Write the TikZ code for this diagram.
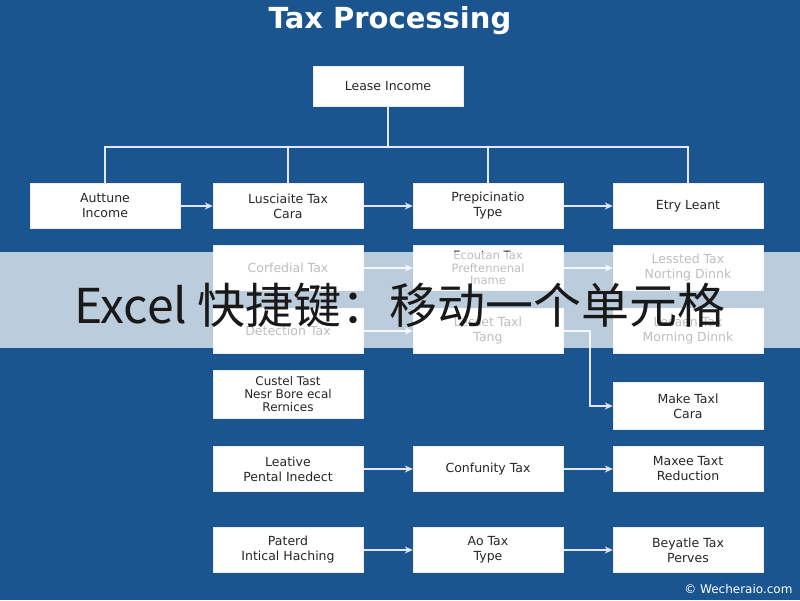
\documentclass[tikz,border=0pt]{standalone}
\usepackage{fontspec}
\setmainfont{DejaVu Sans}
\newfontfamily\cjk{Noto Sans CJK SC}
\usetikzlibrary{arrows.meta}
\definecolor{bg}{HTML}{1B5590}
\begin{document}
\begin{tikzpicture}[x=1pt,y=-1pt,
  box/.style={draw=white!85!gray,fill=white,minimum width=150pt,minimum height=45pt,align=center,font=\fontsize{12.5}{15}\selectfont,text=black!85,inner sep=1pt},
  ln/.style={draw=white!90!blue,line width=1.2pt},
  ar/.style={ln,-{Stealth[length=8pt,width=7pt]}}]
\fill[bg] (0,0) rectangle (800,600);
\useasboundingbox (0,0) rectangle (800,600);
\node[font=\bfseries\fontsize{29}{31}\selectfont,text=white] (t) at (390,21) {Tax Processing};
\node[box,minimum height=40pt] (top) at (388,86) {Lease Income};
\node[box] (a1) at (105,206) {Auttune\\Income};
\node[box] (b1) at (288,206) {Lusciaite Tax\\Cara};
\node[box] (c1) at (488,206) {Prepicinatio\\Type};
\node[box] (d1) at (688,206) {Etry Leant};
\node[box] (b2) at (288,268) {Corfedial Tax};
\node[box,font=\fontsize{11.5}{12.5}\selectfont] (c2) at (488,268) {Ecoutan Tax\\Preftennenal\\Iname};
\node[box] (d2) at (688,268) {Lessted Tax\\Norting Dinnk};
\node[box] (b3) at (288,331) {Detection Tax};
\node[box] (c3) at (488,331) {Lesset Taxl\\Tang};
\node[box] (d3) at (688,331) {Lesaen Tax\\Morning Dinnk};
\node[box,minimum height=48pt,font=\fontsize{12}{13}\selectfont] (b4) at (288,394) {Custel Tast\\Nesr Bore ecal\\Rernices};
\node[box,minimum height=47pt] (d4) at (688,406) {Make Taxl\\Cara};
\node[box] (b5) at (288,469) {Leative\\Pental Inedect};
\node[box] (c5) at (488,469) {Confunity Tax};
\node[box] (d5) at (688,469) {Maxee Taxt\\Reduction};
\node[box] (b6) at (288,550) {Paterd\\Intical Haching};
\node[box] (c6) at (488,550) {Ao Tax\\Type};
\node[box] (d6) at (688,550) {Beyatle Tax\\Perves};
\coordinate (j) at (388,147);
\draw[ln] (top.south) -- (j);
\draw[ln] (a1.north) |- (d1.north |- j) -- (d1.north);
\draw[ln] (b1.north) -- (b1.north |- j);
\draw[ln] (c1.north) -- (c1.north |- j);
\foreach \p/\q in {a1/b1,b1/c1,c1/d1,b2/c2,c2/d2,b3/c3,b5/c5,c5/d5,b6/c6,c6/d6}
  \draw[ar] (\p.east) -- (\q.east -| \q.west);
\coordinate (v) at (590,331);
\draw[ar] (c3.east) -- (v) |- (d4.west);
\fill[white,opacity=0.7] (0,252) rectangle (800,348);
\node[font=\cjk\fontsize{48}{50}\selectfont,text=black!90] (band) at (400,305) {Excel 快捷键：移动一个单元格};
\node[font=\fontsize{12}{13}\selectfont,text=white,anchor=east] (wm) at (796,589) {© Wecheraio.com};
\end{tikzpicture}
\end{document}
